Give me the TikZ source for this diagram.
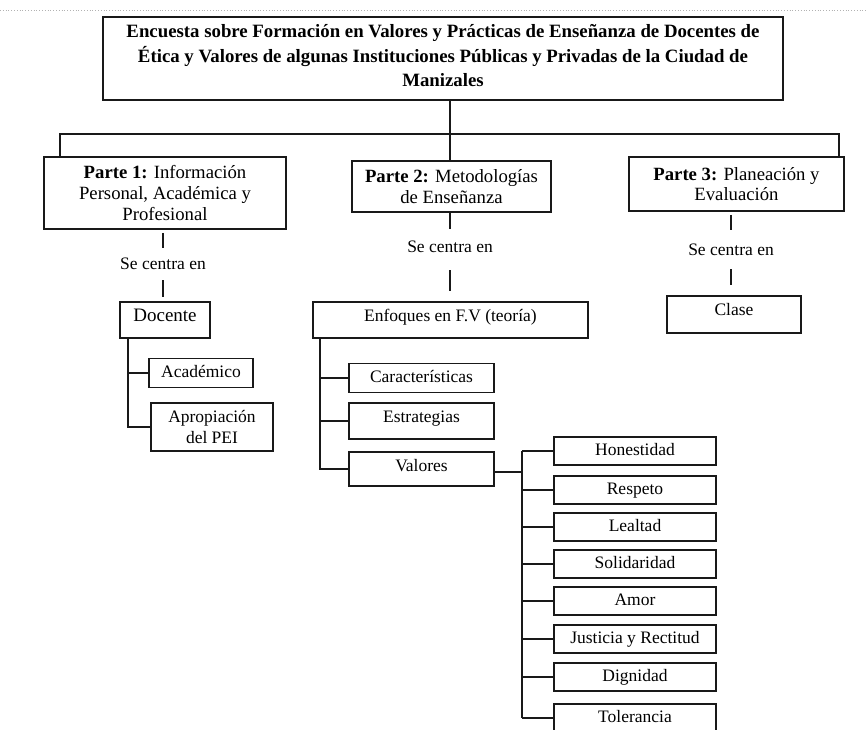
\documentclass[tikz,border=0pt]{standalone}
\usepackage{fontspec}
\setmainfont{Liberation Serif}
\newcommand{\fs}{\fontsize{17.5pt}{20.5pt}\selectfont}
\newcommand{\fp}{\fontsize{18.7pt}{20.5pt}\selectfont}
\newcommand{\ftitle}{\fontsize{18.8pt}{24.5pt}\selectfont\bfseries}
\begin{document}
\begin{tikzpicture}[x=1pt,y=-1pt,
  bx/.style={draw=black!90, line width=1.5pt, inner sep=0pt, align=center, font=\fs},
  one/.style={text height=12pt, text depth=4pt},
  lift/.style={text height=12pt, text depth=#1},
  ln/.style={draw=black!90, line width=1.5pt},
  lbl/.style={inner sep=0pt, minimum height=32pt, font=\fs}]
\fill[white] (0,0) rectangle (866,729);
\clip (0,0) rectangle (866,729);
\draw[black!30, dotted, line width=0.8pt] (0,10) -- (866,10);

% title
\node[bx, minimum width=680pt, minimum height=83pt, font=\ftitle, text depth=6pt] (title) at (443,58.5)
  {Encuesta sobre Formación en Valores y Prácticas de Enseñanza de Docentes de\\
   Ética y Valores de algunas Instituciones Públicas y Privadas de la Ciudad de\\
   Manizales};

% parts
\node[bx, font=\fp, minimum width=242pt, minimum height=72pt] (p1) at (165,193)
  {\textbf{Parte 1:} Información\\ Personal, Académica y\\ Profesional};
\node[bx, font=\fp, minimum width=199pt, minimum height=51pt] (p2) at (451.5,186.5)
  {\textbf{Parte 2:} Metodologías\\ de Enseñanza};
\node[bx, font=\fp, minimum width=215pt, minimum height=54pt] (p3) at (736.5,184)
  {\textbf{Parte 3:} Planeación y\\ Evaluación};

\coordinate (tj) at (450,134);
\coordinate (jl) at (60,134);
\coordinate (jr) at (839,134);
\draw[ln] (title.south -| tj) -- (tj);
\draw[ln] (p1.north -| jl) -- (jl) -- (jr) -- (p3.north -| jr);
\draw[ln] (tj) -- (p2.north -| tj);

% se centra en
\node[lbl] (s1) at (163,264) {Se centra en};
\node[lbl] (s2) at (450,247) {Se centra en};
\node[lbl] (s3) at (731,250) {Se centra en};

% children
\node[bx, font=\fontsize{19pt}{20.5pt}\selectfont, one, lift=10pt, minimum width=90pt, minimum height=36pt] (doc) at (165,320) {Docente};
\node[bx, one, minimum width=104pt, minimum height=29pt] (aca) at (201,373) {Académico};
\node[bx, minimum width=122pt, minimum height=48pt] (ape) at (212,427) {Apropiación\\ del PEI};

\node[bx, one, lift=10pt, minimum width=275pt, minimum height=36pt] (enf) at (450.5,320) {Enfoques en F.V (teoría)};
\node[bx, one, minimum width=145pt, minimum height=29pt] (car) at (421.5,378) {Características};
\node[bx, one, lift=10pt, minimum width=145pt, minimum height=36pt] (est) at (421.5,421) {Estrategias};
\node[bx, one, lift=8pt, minimum width=145pt, minimum height=34pt] (val) at (421.5,469) {Valores};

\node[bx, one, lift=10pt, minimum width=134pt, minimum height=37pt] (cls) at (734,314.5) {Clase};

% value boxes
\foreach \n/\y/\t in {1/451/Honestidad, 2/490/Respeto, 3/527/Lealtad, 4/564/Solidaridad,
                      5/601/Amor, 6/639/Justicia y Rectitud, 7/677/Dignidad, 8/718/Tolerancia}
  \node[bx, one, lift=4pt, minimum width=162pt, minimum height=28pt] (v\n) at (635,\y) {\t};

% connectors parts -> labels -> children
\draw[ln, shorten <=3pt] (s1.north |- p1.south) -- (s1.north);
\draw[ln, shorten >=4pt] (s1.south) -- (s1.south |- doc.north);
\draw[ln, shorten >=2pt] (s2.north |- p2.south) -- (s2.north);
\draw[ln, shorten <=7pt, shorten >=10pt] (s2.south) -- (s2.south |- enf.north);
\draw[ln, shorten <=3pt, shorten >=4pt] (s3.north |- p3.south) -- (s3.north);
\draw[ln, shorten <=3pt, shorten >=10pt] (s3.south) -- (s3.south |- cls.north);

% docente tree
\coordinate (dt) at (128,0);
\draw[ln] (doc.south -| dt) -- (dt |- ape.west) -- (ape.west);
\draw[ln] (dt |- aca.west) -- (aca.west);

% enfoques tree
\coordinate (et) at (320,0);
\draw[ln] (enf.south -| et) -- (et |- val.west) -- (val.west);
\draw[ln] (et |- car.west) -- (car.west);
\draw[ln] (et |- est.west) -- (est.west);

% valores tree
\coordinate (vj) at (522,472);
\draw[ln] (val.east |- vj) -- (vj);
\draw[ln] (vj |- v1.west) -- (vj |- v8.west);
\foreach \n in {1,...,8}
  \draw[ln] (vj |- v\n.west) -- (v\n.west);
\end{tikzpicture}
\end{document}
